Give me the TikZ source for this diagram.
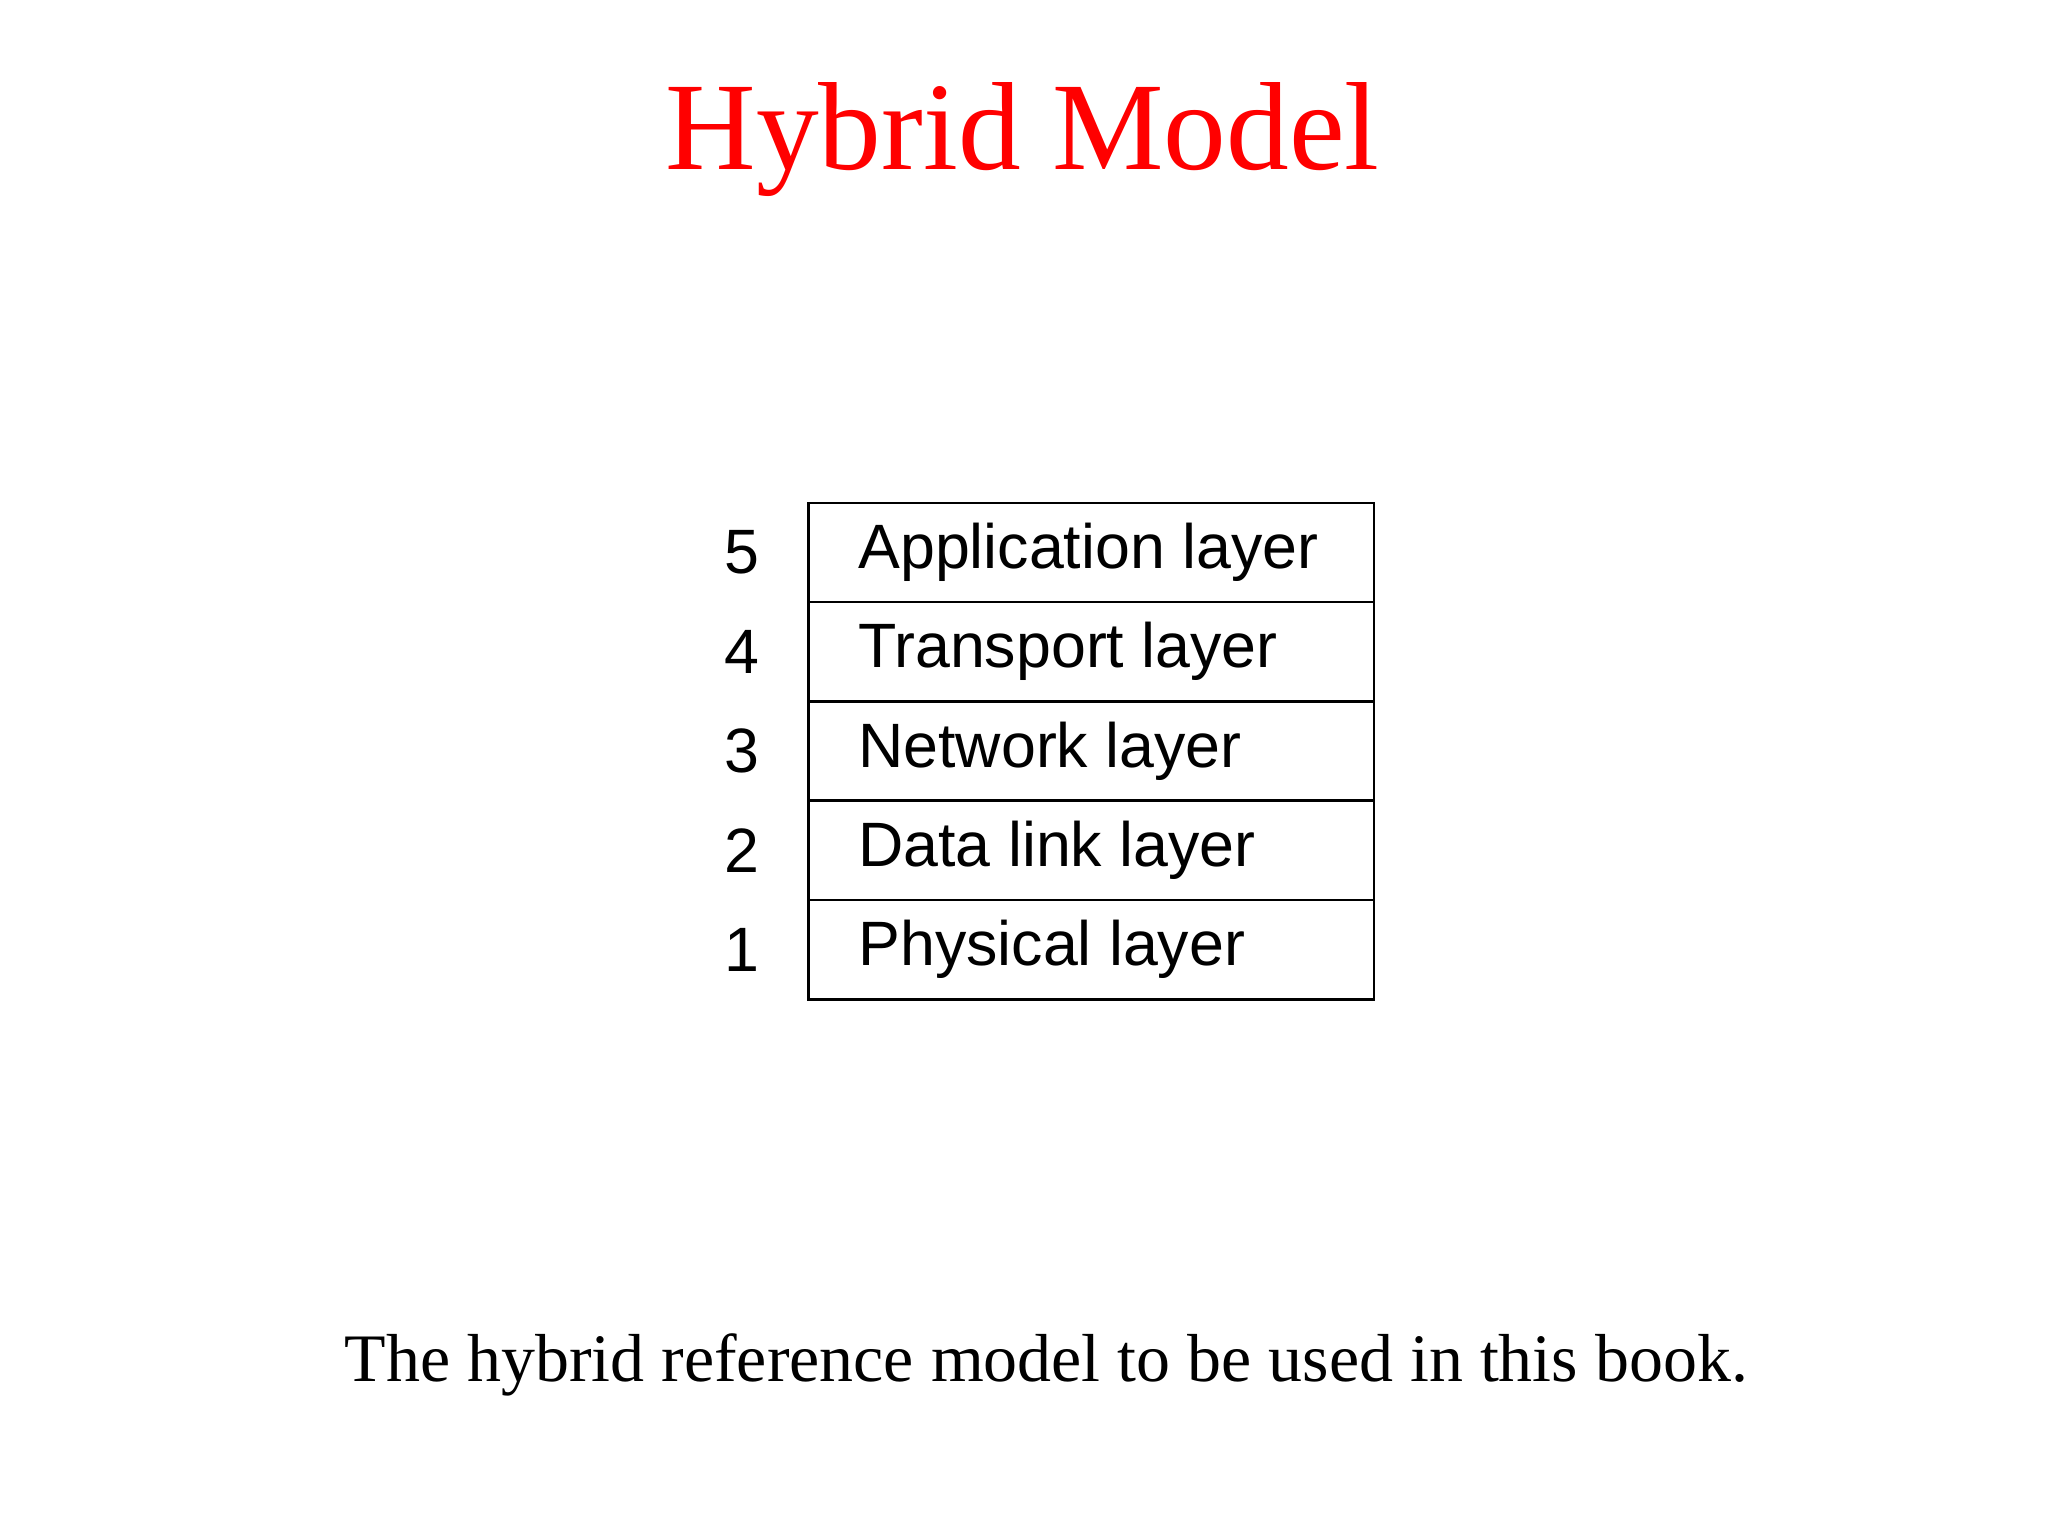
\documentclass[tikz,border=0pt]{standalone}
\usepackage{fontspec}
\setmainfont{Liberation Serif}
\newfontfamily\boxfont{Liberation Sans}
\begin{document}
\begin{tikzpicture}[x=1pt,y=-1pt,
  layer/.style={draw,line width=2pt,minimum width=433pt,minimum height=76pt,anchor=north west,inner sep=0pt},
  lab/.style={anchor=west,inner sep=0pt,font=\boxfont\fontsize{48}{54}\selectfont},
  num/.style={font=\boxfont\fontsize{48}{54}\selectfont}]
\useasboundingbox (0,0) rectangle (1568,1172);
\node[text=red,font=\fontsize{96}{104}\selectfont,anchor=base] (title) at (783,130) {Hybrid Model};
\node[layer] (l5) at (618,384) {};
\node[layer] (l4) at (618,460) {};
\node[layer] (l3) at (618,536) {};
\node[layer] (l2) at (618,612) {};
\node[layer] (l1) at (618,688) {};
\node[lab] (t5) at ([xshift=39pt]l5.west) {Application layer};
\node[lab] (t4) at ([xshift=39pt]l4.west) {Transport layer};
\node[lab] (t3) at ([xshift=39pt]l3.west) {Network layer};
\node[lab] (t2) at ([xshift=39pt]l2.west) {Data link layer};
\node[lab] (t1) at ([xshift=39pt]l1.west) {Physical layer};
\node[num] (n5) at (568,|-l5) {5};
\node[num] (n4) at (568,|-l4) {4};
\node[num] (n3) at (568,|-l3) {3};
\node[num] (n2) at (568,|-l2) {2};
\node[num] (n1) at (568,|-l1) {1};
\node[font=\fontsize{52}{58}\selectfont,anchor=base] (cap) at (801,1058) {The hybrid reference model to be used in this book.};
\end{tikzpicture}
\end{document}
